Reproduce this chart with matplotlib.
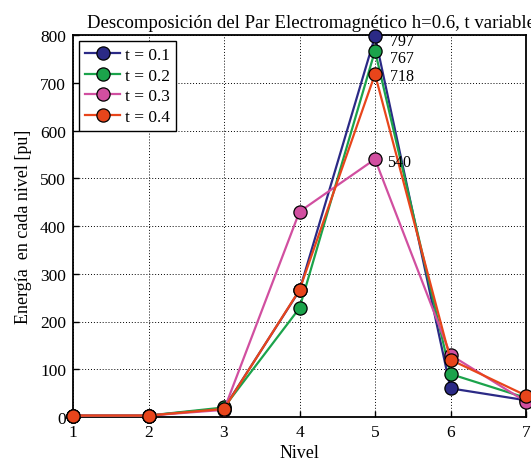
import matplotlib
matplotlib.use("Agg")
import matplotlib.pyplot as plt

niveles = [1, 2, 3, 4, 5, 6, 7]
t01 = [3, 3, 18, 265, 797, 60, 35]
t02 = [3, 3, 20, 228, 767, 90, 40]
t03 = [3, 3, 15, 430, 540, 130, 32]
t04 = [3, 3, 17, 266, 718, 120, 45]
labels = ["t = 0.1", "t = 0.2", "t = 0.3", "t = 0.4"]
colors = ["#2B2A86", "#1BA34B", "#D14FA0", "#E8451B"]
annot = [(5, 797, "797"), (5, 767, "767"), (5, 718, "718"), (5, 540, "540")]

plt.rcParams['font.family'] = ['Liberation Serif', 'DejaVu Serif']
plt.rcParams['mathtext.fontset'] = 'stix'

fig = plt.figure(figsize=(5.31, 4.64), dpi=100)
ax = fig.add_axes([73/531, 1-418/464, (526-73)/531, (418-36)/464])

for ys, lab, c in zip([t01, t02, t03, t04], labels, colors):
    ax.plot(niveles, ys, '-o', color=c, label=lab, lw=1.6, ms=9.5,
            markerfacecolor=c, markeredgecolor='black', markeredgewidth=0.9,
            clip_on=False, zorder=3)

offs = [(11, -3), (11, -5), (11, -1), (9, -2)]
for (x, y, s), o in zip(annot, offs):
    ax.annotate(s, (x, y), xytext=o, textcoords='offset points',
                fontsize=11.5, va='center', ha='left')

ax.set_xlim(1, 7)
ax.set_ylim(0, 800)
ax.set_xticks(niveles)
ax.set_yticks(range(0, 801, 100))
ax.grid(True, color='black', linestyle=(0, (1, 2)), lw=0.7)
ax.tick_params(direction='in', labelsize=12.5, length=4, width=1, pad=5)
for sp in ax.spines.values():
    sp.set_linewidth(1.3)
ax.set_xlabel("Nivel", fontsize=13, labelpad=3)
ax.set_ylabel("Energía  en cada nivel [pu]", fontsize=13, labelpad=6)
ax.set_title("Descomposición del Par Electromagnético h=0.6, t variable", fontsize=13.5, pad=6, x=0.525)

leg = ax.legend(loc='upper left', fontsize=12.5, frameon=True, fancybox=False,
                edgecolor='black', framealpha=1, borderaxespad=0.35,
                handlelength=2.0, handletextpad=0.3, labelspacing=0.25, borderpad=0.35)
leg.get_frame().set_linewidth(1.0)

fig.savefig("out.png", dpi=100)
